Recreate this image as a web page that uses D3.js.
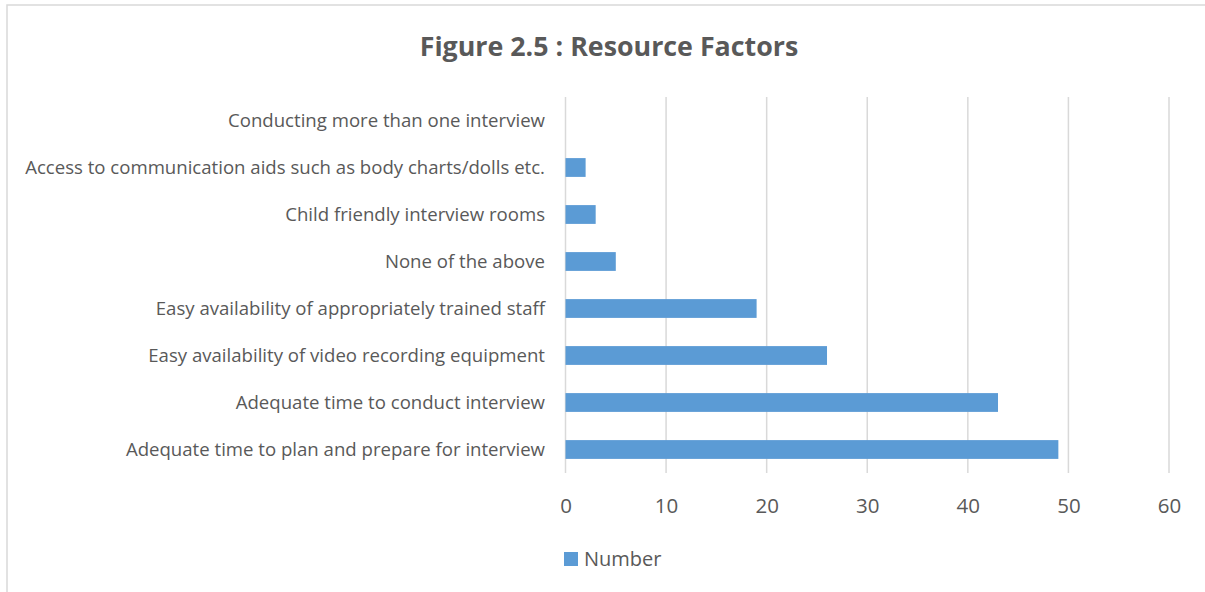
<!DOCTYPE html>
<html>
<head>
<meta charset="utf-8">
<script src="https://cdn.jsdelivr.net/npm/d3@7"></script>
<style>
  body { margin: 0; background: #fff; }
  text { font-family: "Open Sans", "Liberation Sans", sans-serif; fill: #595959; }
</style>
</head>
<body>
<div id="container"></div>
<script>
// categories top to bottom, as in the picture
var categories = [
  "Conducting more than one interview",
  "Access to communication aids such as body charts/dolls etc.",
  "Child friendly interview rooms",
  "None of the above",
  "Easy availability of appropriately trained staff",
  "Easy availability of video recording equipment",
  "Adequate time to conduct interview",
  "Adequate time to plan and prepare for interview"
];
var values = [0, 2, 3, 5, 19, 26, 43, 49];
var ticks = [0, 10, 20, 30, 40, 50, 60];
var seriesName = "Number";
var title = "Figure 2.5 : Resource Factors";

var svg_width = 1205,
    svg_height = 592;

var data = categories.map(function(c, i) { return {name: c, value: values[i]}; });

var svg = d3.select("#container")
  .append("svg")
  .attr("width", svg_width)
  .attr("height", svg_height);

// chart frame
svg.append("rect")
  .attr("x", 7).attr("y", 5)
  .attr("width", 1210).attr("height", 600)
  .attr("fill", "none")
  .attr("stroke", "#d9d9d9")
  .attr("stroke-width", 1.5);

svg.append("text")
  .text(title)
  .attr("x", 609)
  .attr("y", 56)
  .attr("text-anchor", "middle")
  .style("font-size", "26.8px")
  .style("font-weight", "bold");

var x = d3.scaleLinear()
  .domain([0, 60])
  .range([565.5, 1169]);

var y = d3.scaleBand()
  .domain(categories)
  .range([97, 473])
  .paddingInner(0.6)
  .paddingOuter(0.3);

// gridlines
svg.append("g")
  .selectAll("line")
  .data(ticks)
  .enter()
  .append("line")
  .attr("x1", function(d) { return x(d); })
  .attr("x2", function(d) { return x(d); })
  .attr("y1", 97)
  .attr("y2", 473)
  .attr("stroke", "#d9d9d9")
  .attr("stroke-width", 1.5);

// bars
svg.append("g")
  .selectAll("rect")
  .data(data)
  .enter()
  .append("rect")
  .attr("x", x(0))
  .attr("y", function(d) { return y(d.name); })
  .attr("width", function(d) { return x(d.value) - x(0); })
  .attr("height", y.bandwidth())
  .style("fill", "#5b9bd5");

// category labels
svg.append("g")
  .selectAll("text")
  .data(categories)
  .enter()
  .append("text")
  .text(function(d) { return d; })
  .attr("x", 545)
  .attr("y", function(d) { return y(d) + y.bandwidth() / 2; })
  .attr("dy", "0.35em")
  .attr("text-anchor", "end")
  .style("font-size", "18.6px");

// x axis tick labels
var xAxis = svg.append("g")
  .attr("transform", "translate(0,473)")
  .call(d3.axisBottom(x).tickValues(ticks).tickSize(0).tickPadding(25));
xAxis.select(".domain").remove();
xAxis.selectAll("text")
  .style("font-size", "20.5px")
  .style("font-family", "'Open Sans', sans-serif")
  .attr("fill", "#595959");

// legend
var legend = svg.append("g").attr("transform", "translate(564,552)");
legend.append("rect")
  .attr("width", 14).attr("height", 14)
  .style("fill", "#5b9bd5");
legend.append("text")
  .text(seriesName)
  .attr("x", 20)
  .attr("y", 7)
  .attr("dy", "0.35em")
  .style("font-size", "20px");
</script>
</body>
</html>
